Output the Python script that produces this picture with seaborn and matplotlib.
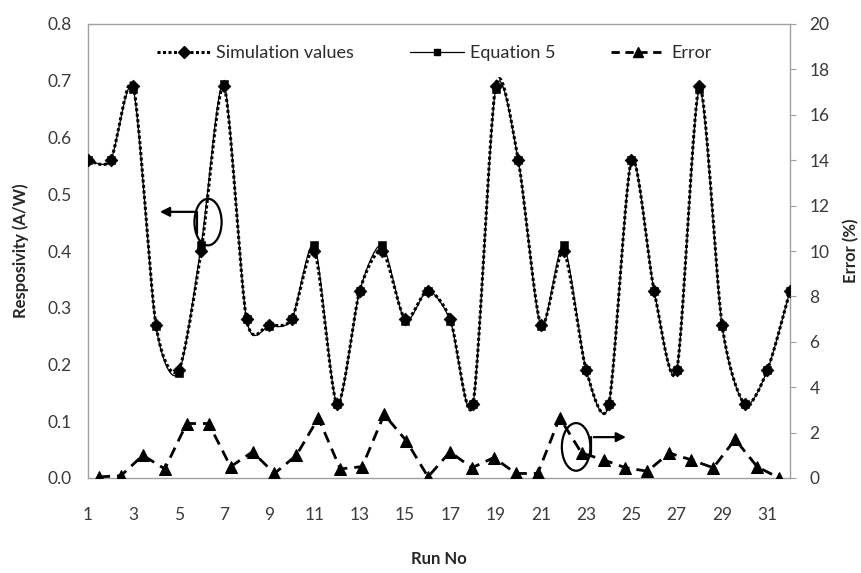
import numpy as np
import pandas as pd
import matplotlib
matplotlib.use("Agg")
import matplotlib.pyplot as plt
from matplotlib.lines import Line2D
from matplotlib.patches import Ellipse
import seaborn as sns

# ---------------- data ----------------
runs = list(range(1, 33))
simulation = [0.56, 0.56, 0.69, 0.27, 0.19, 0.40, 0.69, 0.28, 0.27, 0.28,
              0.40, 0.13, 0.33, 0.40, 0.28, 0.33, 0.28, 0.13, 0.69, 0.56,
              0.27, 0.40, 0.19, 0.13, 0.56, 0.33, 0.19, 0.69, 0.27, 0.13,
              0.19, 0.33]
equation5 = [0.56, 0.56, 0.685, 0.268, 0.185, 0.41, 0.695, 0.28, 0.268, 0.28,
             0.41, 0.13, 0.33, 0.41, 0.277, 0.33, 0.277, 0.13, 0.685, 0.56,
             0.268, 0.41, 0.19, 0.13, 0.56, 0.33, 0.19, 0.685, 0.268, 0.13,
             0.19, 0.33]
error_pct = [0.05, 0.1, 1.0, 0.4, 2.4, 2.4, 0.5, 1.15, 0.2, 1.0,
             2.65, 0.4, 0.5, 2.8, 1.65, 0.05, 1.15, 0.45, 0.9, 0.2,
             0.2, 2.65, 1.1, 0.8, 0.45, 0.3, 1.1, 0.8, 0.45, 1.7,
             0.5, 0.0]
xtick_labels = [str(r) for r in range(1, 32, 2)]
left_ticks = [0.0, 0.1, 0.2, 0.3, 0.4, 0.5, 0.6, 0.7, 0.8]
right_ticks = [0, 2, 4, 6, 8, 10, 12, 14, 16, 18, 20]


def smooth_curve(xv, yv, n=24, k=7.5):
    """Excel-style smoothed line (cardinal Bezier through the points)."""
    xv = np.asarray(xv, float)
    yv = np.asarray(yv, float)
    P = np.column_stack([xv, yv])
    Pe = np.vstack([P[0], P, P[-1]])
    out = []
    for i in range(len(P) - 1):
        p0, p1, p2, p3 = Pe[i], Pe[i + 1], Pe[i + 2], Pe[i + 3]
        c1 = p1 + (p2 - p0) / k
        c2 = p2 - (p3 - p1) / k
        t = np.linspace(0, 1, n, endpoint=(i == len(P) - 2))[:, None]
        seg = ((1 - t) ** 3) * p1 + 3 * ((1 - t) ** 2) * t * c1 + 3 * (1 - t) * t ** 2 * c2 + t ** 3 * p2
        out.append(seg)
    s = np.vstack(out)
    return s[:, 0], s[:, 1]


df = pd.DataFrame({"run": runs, "sim": simulation, "eq5": equation5, "err": error_pct})
sx, sy = smooth_curve(df["run"], df["sim"])
ex, ey = smooth_curve(df["run"], df["eq5"])

sns.set_theme(style="white")
plt.rcParams["font.family"] = ["Lato", "DejaVu Sans"]

W, H = 862, 573
fig = plt.figure(figsize=(W / 100, H / 100), dpi=100)
rect = [88 / W, 1 - 478 / H, (790 - 88) / W, (478 - 24) / H]
ax = fig.add_axes(rect)
ax2 = fig.add_axes(rect, frameon=False, label="error")

tick_col = "#3a3a3a"
spine_col = "#a0a0a0"

# Equation 5 (thin solid, smoothed) and simulation (dotted, smoothed)
sns.lineplot(x=ex, y=ey, ax=ax, color="black", linewidth=0.9, sort=False, zorder=2)
sns.lineplot(x=sx, y=sy, ax=ax, color="black", linewidth=2.2, linestyle=(0, (1, 0.8)),
             sort=False, zorder=3)
sns.scatterplot(data=df, x="run", y="sim", ax=ax, marker="D", s=42, color="black",
                edgecolor="black", zorder=4)
sns.scatterplot(data=df, x="run", y="eq5", ax=ax, marker="s", s=26, color="black",
                edgecolor="black", zorder=5)

ax.set_xlim(1, 32)
ax.set_ylim(0, 0.8)
ax.set_yticks(left_ticks)
ax.set_yticklabels([f"{v:.1f}" for v in left_ticks])
ax.set_xticks(list(range(1, 32, 2)))
ax.set_xticklabels(xtick_labels)
ax.set_xlabel("Run No", fontsize=12, fontweight="bold", labelpad=20)
ax.set_ylabel("Resposivity (A/W)", fontsize=12, fontweight="bold", labelpad=13)
ax.tick_params(axis="both", labelsize=12.5, colors=tick_col, length=4, width=0.8,
               direction="out", pad=8)
ax.tick_params(axis="x", pad=17)
ax.tick_params(axis="both", color=spine_col)
for sp in ax.spines.values():
    sp.set_color(spine_col)
    sp.set_linewidth(1.0)

# Error series on secondary axes (categories centred between tick marks)
sns.lineplot(data=df, x="run", y="err", ax=ax2, color="black", linewidth=2.0,
             linestyle=(0, (4, 2.5)), marker="^", markersize=8.5,
             markeredgecolor="black", zorder=4)
ax2.set_xlim(0.5, 32.5)
ax2.set_ylim(0, 20)
ax2.set_yticks(right_ticks)
ax2.set_yticklabels([str(v) for v in right_ticks])
ax2.xaxis.set_visible(False)
ax2.yaxis.tick_right()
ax2.yaxis.set_label_position("right")
ax2.set_ylabel("Error (%)", fontsize=12, fontweight="bold", labelpad=10)
ax2.set_xlabel("")
ax2.tick_params(axis="y", labelsize=12.5, labelcolor=tick_col, color=spine_col,
                length=4, width=0.8, direction="out", pad=10)
ax2.patch.set_alpha(0)

# Annotation: ellipse + arrow pointing to left axis
ax.add_patch(Ellipse((6.3, 0.451), width=1.2, height=0.082, angle=0,
                     fill=False, edgecolor="black", linewidth=1.6, zorder=6))
ax.plot([5.83, 5.83], [0.469, 0.43], color="black", linewidth=1.6, zorder=6)
ax.annotate("", xy=(4.05, 0.469), xytext=(5.85, 0.469),
            arrowprops=dict(arrowstyle="-|>", color="black", lw=1.6,
                            mutation_scale=14), zorder=6)

# Annotation: ellipse + arrow pointing to right axis
ax2.add_patch(Ellipse((22.75, 1.37), width=1.3, height=2.1, angle=0,
                      fill=False, edgecolor="black", linewidth=1.6, zorder=6))
ax2.plot([23.45, 23.45], [1.8, 1.05], color="black", linewidth=1.6, zorder=6)
ax2.annotate("", xy=(25.15, 1.8), xytext=(23.43, 1.8),
             arrowprops=dict(arrowstyle="-|>", color="black", lw=1.6,
                             mutation_scale=14), zorder=6)

# Legend
handles = [
    Line2D([], [], color="black", linestyle=(0, (1, 0.8)), linewidth=2.2,
           marker="D", markersize=6.5),
    Line2D([], [], color="black", linestyle="-", linewidth=0.9,
           marker="s", markersize=5),
    Line2D([], [], color="black", linestyle=(0, (3, 2)), linewidth=2.0,
           marker="^", markersize=7.5),
]
ax2.legend(handles, ["Simulation values", "Equation 5", "Error"], loc="center",
           bbox_to_anchor=(0.493, 0.936), ncol=3, frameon=False, fontsize=13,
           handlelength=3.0, handletextpad=0.3, columnspacing=3.1, numpoints=1,
           labelcolor="#2a2a2a")

fig.savefig("out.png", dpi=100)
